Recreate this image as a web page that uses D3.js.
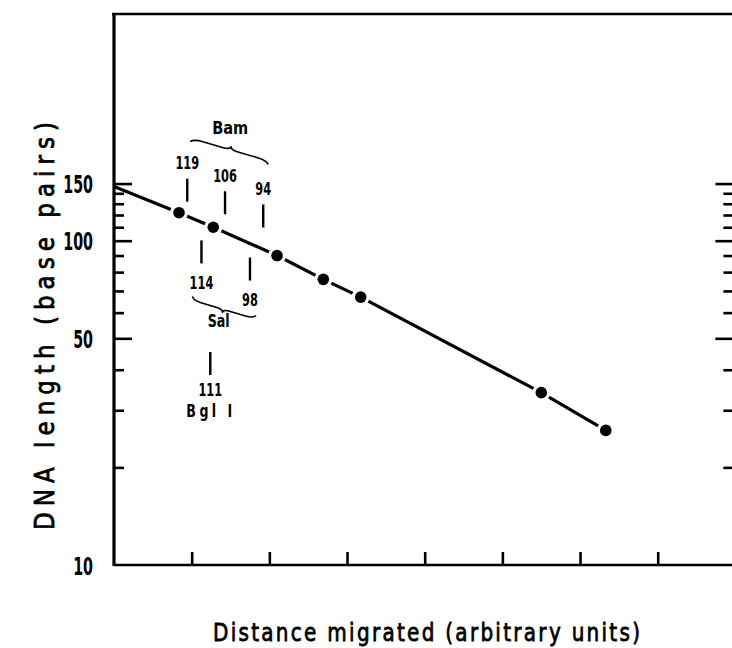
<!DOCTYPE html>
<html>
<head>
<meta charset="utf-8">
<script src="https://cdn.jsdelivr.net/npm/d3@7"></script>
<style>
body { margin: 0; background: #fff; }
text { font-family: "DejaVu Sans", sans-serif; fill: #000; font-weight: bold; }
text.title { font-weight: normal; stroke: #000; stroke-width: 0.8; }
</style>
</head>
<body>
<svg id="chart" width="732" height="648"></svg>
<script>
// marker bands: distance migrated (arbitrary units) and size (bp)
var distance = [0.837, 1.278, 2.099, 2.695, 3.176, 5.501, 6.331];
var sizes = [122, 110, 90, 76, 67, 34, 26];
// the drawn line starts on the y axis
var lineStartDistance = 0;
var lineStartSize = 147;

var yMajor = [50, 100, 150];
var yMinor = [20, 30, 40, 60, 70, 80, 90, 110, 120, 130, 140];
var yLabels = [10, 50, 100, 150];
var xTicks = [1, 2, 3, 4, 5, 6, 7];

// fragments
var bamSizes = [119, 106, 94];
var salSizes = [114, 98];
var bglSizes = [111];

var svg = d3.select("#chart");

var x = d3.scaleLinear().domain([0, 8]).range([114, 735.4]);
var y = d3.scaleLog().domain([10, 500]).range([565, 14]);

var pts = [[lineStartDistance, lineStartSize]];
for (var i = 0; i < distance.length; i++) pts.push([distance[i], sizes[i]]);

// distance on the line for a given size (line is straight in log space between points)
function distAt(s) {
	for (var i = 0; i < pts.length - 1; i++) {
		var a = pts[i], b = pts[i + 1];
		if (s <= a[1] && s >= b[1]) {
			var t = (Math.log(a[1]) - Math.log(s)) / (Math.log(a[1]) - Math.log(b[1]));
			return a[0] + t * (b[0] - a[0]);
		}
	}
	return pts[pts.length - 1][0];
}

// narrow the glyphs, the original lettering is a condensed stencil face
function squeeze(sel, k) {
	sel.each(function() {
		var w = this.getComputedTextLength();
		d3.select(this).attr("textLength", w * k).attr("lengthAdjust", "spacingAndGlyphs");
	});
}

// frame
svg.append("line").attr("x1", 112).attr("x2", 740).attr("y1", 14).attr("y2", 14)
	.attr("stroke", "#000").attr("stroke-width", 2.6);
svg.append("line").attr("x1", 114).attr("x2", 740).attr("y1", 565).attr("y2", 565)
	.attr("stroke", "#000").attr("stroke-width", 2.6);
svg.append("line").attr("x1", 114).attr("x2", 114).attr("y1", 13).attr("y2", 566)
	.attr("stroke", "#000").attr("stroke-width", 3.2);

function tickAxis(axis, tx, ty) {
	var g = svg.append("g").attr("transform", "translate(" + tx + "," + ty + ")").call(axis);
	g.select(".domain").remove();
	g.selectAll(".tick line").attr("stroke", "#000").attr("stroke-width", 2.6);
	return g;
}

tickAxis(d3.axisLeft(y).tickValues(yMajor).tickSize(-18).tickFormat(""), 114, 0);
tickAxis(d3.axisLeft(y).tickValues(yMinor).tickSize(-10).tickFormat(""), 114, 0);
tickAxis(d3.axisRight(y).tickValues(yMajor).tickSize(-20).tickFormat(""), x(8), 0);
tickAxis(d3.axisRight(y).tickValues(yMinor).tickSize(-12).tickFormat(""), x(8), 0);
tickAxis(d3.axisBottom(x).tickValues(xTicks).tickSize(-13).tickFormat(""), 0, 565);

var lab = tickAxis(d3.axisLeft(y).tickValues(yLabels).tickSize(0).tickPadding(21).tickFormat(d3.format("d")), 114, 0);
lab.attr("font-family", null);
lab.selectAll(".tick text").attr("font-size", 25).attr("dy", "0.36em");
squeeze(lab.selectAll(".tick text"), 0.57);

// calibration line
var line = d3.line().x(function(d) { return x(d[0]); }).y(function(d) { return y(d[1]); });
svg.append("path").datum(pts).attr("d", line)
	.attr("fill", "none").attr("stroke", "#000").attr("stroke-width", 3.2);

var dots = svg.append("g").selectAll("g").data(pts.slice(1)).enter().append("g");
dots.append("circle").attr("cx", function(d) { return x(d[0]); }).attr("cy", function(d) { return y(d[1]); })
	.attr("r", 9).attr("fill", "#fff");
dots.append("circle").attr("cx", function(d) { return x(d[0]); }).attr("cy", function(d) { return y(d[1]); })
	.attr("r", 5.8).attr("fill", "#000");

// band markers
function marker(s, top, labelY) {
	var mx = x(distAt(s));
	svg.append("line").attr("x1", mx).attr("x2", mx).attr("y1", top).attr("y2", top + 23)
		.attr("stroke", "#000").attr("stroke-width", 2.4);
	var t = svg.append("text").attr("x", mx).attr("y", labelY).attr("dy", "0.36em")
		.attr("text-anchor", "middle").attr("font-size", 18).text(s);
	squeeze(t, 0.63);
	return { x: mx, y: labelY };
}

var bam = bamSizes.map(function(s, i) {
	var top = y(s) - (14.5 + 3.7 * i) - 23;
	return marker(s, top, top - 16);
});
var sal = salSizes.map(function(s, i) {
	var top = y(s) + (18.2 - 4.2 * i);
	return marker(s, top, top + 23 + 19);
});
var bgl = bglSizes.map(function(s) {
	var top = y(s) + 126;
	return marker(s, top, top + 38);
});

// curly braces grouping the markers
function brace(x1, y1, x2, y2, h) {
	var L = Math.hypot(x2 - x1, y2 - y1);
	var ang = Math.atan2(y2 - y1, x2 - x1) * 180 / Math.PI;
	var p = "M0,0 Q" + (L * 0.03) + "," + (h * 0.5) + " " + (L * 0.15) + "," + (h * 0.5) +
		" L" + (L * 0.4) + "," + (h * 0.5) +
		" Q" + (L * 0.5) + "," + (h * 0.5) + " " + (L * 0.5) + "," + h +
		" Q" + (L * 0.5) + "," + (h * 0.5) + " " + (L * 0.6) + "," + (h * 0.5) +
		" L" + (L * 0.85) + "," + (h * 0.5) +
		" Q" + (L * 0.97) + "," + (h * 0.5) + " " + L + ",0";
	svg.append("path").attr("d", p)
		.attr("transform", "translate(" + x1 + "," + y1 + ") rotate(" + ang + ")")
		.attr("fill", "none").attr("stroke", "#000").attr("stroke-width", 1.6);
}

var b0 = bam[0], b2 = bam[bam.length - 1];
brace(b0.x + 3, b0.y - 21, b2.x + 5, b2.y - 24, -7);
svg.append("text").attr("x", (b0.x + b2.x) / 2 + 5).attr("y", (b0.y + b2.y) / 2 - 48).attr("dy", "0.36em")
	.attr("text-anchor", "middle").attr("font-size", 18)
	.attr("textLength", 36).attr("lengthAdjust", "spacingAndGlyphs").text("Bam");

var s0 = sal[0], s1 = sal[sal.length - 1];
brace(s0.x - 9, s0.y + 14, s1.x + 6, s1.y + 16, 7);
svg.append("text").attr("x", (s0.x + s1.x) / 2 - 7).attr("y", (s0.y + s1.y) / 2 + 30).attr("dy", "0.36em")
	.attr("text-anchor", "middle").attr("font-size", 18)
	.attr("textLength", 22).attr("lengthAdjust", "spacingAndGlyphs").text("Sal");

var kb = 0.7;
svg.append("text")
	.attr("transform", "translate(" + (bgl[0].x - 1) + "," + (bgl[0].y + 21) + ") scale(" + kb + ",1)")
	.attr("dy", "0.36em").attr("text-anchor", "middle").attr("font-size", 18)
	.attr("textLength", 46 / kb).attr("lengthAdjust", "spacing").text("Bgl I");

// axis titles: narrowed glyphs, spaced out to the original length
var k = 0.8;
svg.append("text").attr("class", "title").attr("transform", "translate(213,641) scale(" + k + ",1)").attr("font-size", 25)
	.attr("textLength", 427 / k).attr("lengthAdjust", "spacing")
	.text("Distance migrated (arbitrary units)");

var ky = 0.85;
svg.append("text").attr("class", "title").attr("transform", "translate(54,530) rotate(-90) scale(" + ky + ",1)").attr("font-size", 27)
	.attr("textLength", 408 / ky).attr("lengthAdjust", "spacing")
	.text("DNA length (base pairs)");
</script>
</body>
</html>
